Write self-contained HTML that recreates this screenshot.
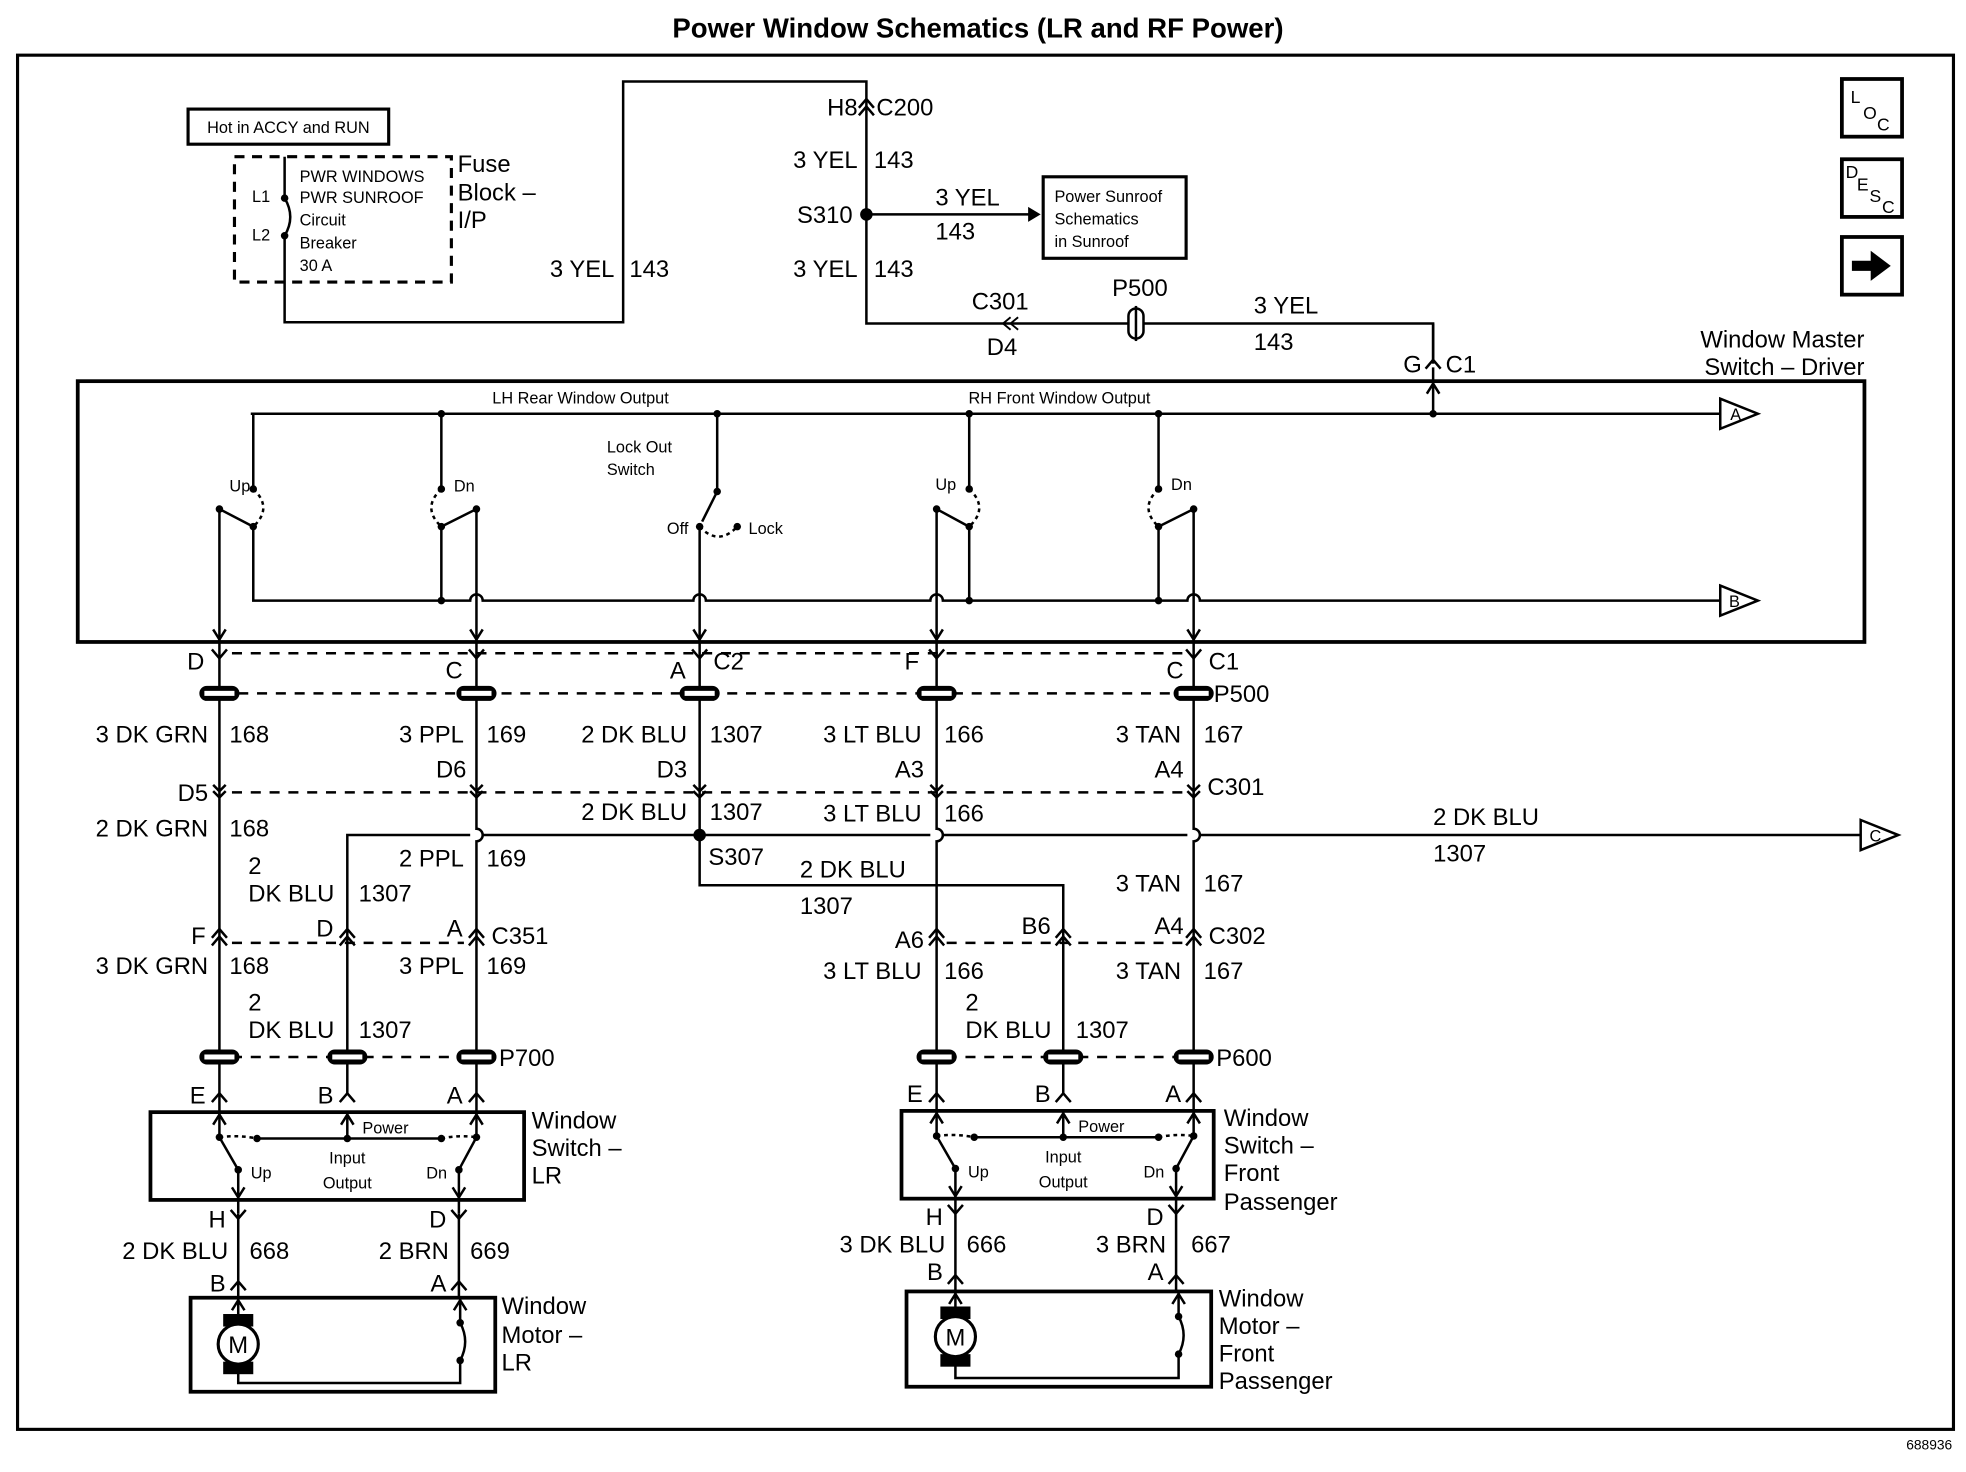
<!DOCTYPE html>
<html><head><meta charset="utf-8"><style>
html,body{margin:0;padding:0;background:#fff;}
svg{display:block;}
text{font-family:"Liberation Sans",Arial,sans-serif;fill:#000;}
.l{font-size:19px;}
.s{font-size:13px;}
.e{text-anchor:end;}
.m{text-anchor:middle;}
</style></head><body>
<svg width="1966" height="1472" viewBox="0 0 1568 1174" xmlns="http://www.w3.org/2000/svg">
<defs>
<path id="cy" d="M-6,-7 L0,0 L6,-7" fill="none" stroke="#000" stroke-width="2"/>
<path id="cu" d="M-6,7 L0,0 L6,7" fill="none" stroke="#000" stroke-width="2"/>
<path id="cd" d="M-5,-10 L0,-5 L5,-10 M-5,-5 L0,0 L5,-5" fill="none" stroke="#000" stroke-width="2"/>
<path id="ad" d="M-5,-8 L0,0 L5,-8" fill="none" stroke="#000" stroke-width="2"/>
<path id="au" d="M-5,8 L0,0 L5,8" fill="none" stroke="#000" stroke-width="2"/>
<g id="pad"><rect x="-16" y="-6" width="32" height="12" rx="6" fill="#000"/><rect x="-12" y="-2" width="24" height="4" fill="#fff"/></g>
<g id="mot"><rect x="-12" y="-24" width="24" height="10" fill="#000"/><rect x="-12" y="14" width="24" height="10" fill="#000"/><circle r="16" fill="#fff" stroke="#000" stroke-width="2.5"/><text y="7" class="l m">M</text></g>
</defs>
<rect width="1568" height="1174" fill="#fff"/>
<text x="780" y="30" class="m" style="font-size:22px;font-weight:bold">Power Window Schematics (LR and RF Power)</text>
<rect x="14" y="44" width="1544" height="1096" fill="none" stroke="#000" stroke-width="2.5"/>
<text x="1557" y="1156" class="e" style="font-size:11px">688936</text>

<g fill="none" stroke="#000" stroke-width="2">
<!-- top wiring -->
<rect x="150" y="87" width="160" height="28" stroke-width="2.5"/>
<rect x="187" y="125" width="173" height="100" stroke-width="2.5" stroke-dasharray="8,6"/>
<path d="M227,125 V158 M227,188 V257 H497 V65 H691 V258 H1143 V290"/>
<path d="M227,158 Q236,173 227,188"/>
<path d="M691,171 H822"/>
<path d="M1143,293 V330"/>
<rect x="832" y="141" width="114" height="65" stroke-width="2.5"/>
<rect x="1469" y="63" width="48" height="46" stroke-width="3"/>
<rect x="1469" y="127" width="48" height="46" stroke-width="3"/>
<rect x="1469" y="189" width="48" height="46" stroke-width="3"/>
<!-- master box -->
<rect x="62" y="304" width="1425" height="208" stroke-width="3"/>
<path d="M200,330 H1372 M1372,318 L1402,330 L1372,342 Z"/>
<path d="M202,330 V390 M202,420 V479 H375 a5,5 0 0 1 10,0 H553 a5,5 0 0 1 10,0 H742 a5,5 0 0 1 10,0 H947 a5,5 0 0 1 10,0 H1372 M1372,467 L1402,479 L1372,491 Z"/>
<path d="M352,330 V390 M352,420 V479 M572,330 V392 L560,416 M558,420 V512 M773,330 V390 M773,420 V479 M924,330 V390 M924,420 V479"/>
<path d="M175,406 L200,419 M175,406 V512 M380,406 L354,419 M380,406 V512 M747,406 L771,419 M747,406 V512 M952,406 L926,419 M952,406 V512"/>
<path d="M202,390 Q218,405 202,420 M352,390 Q336,405 352,420 M773,390 Q789,405 773,420 M924,390 Q908,405 924,420 M558,420 Q573,436 588,420" stroke-dasharray="3,3"/>
<!-- dashed connector lines -->
<path d="M185,521 H945 M190,553 H935 M185,632 H945 M185,752 H370 M755,752 H945 M185,843 H370 M755,843 H940" stroke-dasharray="8,7"/>
<!-- columns -->
<path d="M175,512 V873 M380,512 V661 a5,5 0 0 1 0,10 V873 M558,512 V706 H848 V873 M747,512 V661 a5,5 0 0 1 0,10 V873 M952,512 V661 a5,5 0 0 1 0,10 V873 M277,873 V666 H375 M385,666 H742 M752,666 H947 M957,666 H1484 M1484,654 L1514,666 L1484,678 Z"/>
<path d="M1143,258 V290"/>
<!-- LR switch -->
<rect x="120" y="887" width="298" height="70" stroke-width="3"/>
<path d="M175,873 V907 L190,933 V968 M205,908 H352 M277,908 V887 M380,873 V907 L366,933 V968"/>
<path d="M175,907 Q190,905 205,908 M352,908 Q366,905 380,907" stroke-dasharray="3,3"/>
<path d="M190,968 V1035 M366,968 V1035"/>
<rect x="152" y="1035" width="243" height="75" stroke-width="3"/>
<path d="M190,1035 V1050 M190,1094 V1103 H367 V1085 M367,1035 V1055 Q375,1070 367,1085"/>
<!-- passenger switch -->
<rect x="719" y="886" width="249" height="70" stroke-width="3"/>
<path d="M747,873 V906 L762,932 V968 M777,907 H924 M848,907 V886 M952,873 V906 L938,932 V968"/>
<path d="M747,906 Q762,904 777,907 M924,907 Q938,904 952,906" stroke-dasharray="3,3"/>
<path d="M762,968 V1030 M938,968 V1030"/>
<rect x="723" y="1030" width="243" height="76" stroke-width="3"/>
<path d="M762,1030 V1044 M762,1088 V1099 H940 V1080 M940,1030 V1050 Q948,1065 940,1080"/>
</g>
<path d="M820,165 L830,171 L820,177 Z"/>
<path d="M1477,208 H1492 V200 L1508,212 L1492,224 V216 H1477 Z"/>
<!-- dots -->
<g fill="#000">
<circle cx="691" cy="171" r="5"/><circle cx="558" cy="666" r="5"/>
<circle cx="227" cy="158" r="3"/><circle cx="227" cy="188" r="3"/>
<circle cx="352" cy="330" r="3"/><circle cx="572" cy="330" r="3"/><circle cx="773" cy="330" r="3"/><circle cx="924" cy="330" r="3"/><circle cx="1143" cy="330" r="3"/>
<circle cx="202" cy="390" r="3"/><circle cx="202" cy="420" r="3"/><circle cx="175" cy="406" r="3"/>
<circle cx="352" cy="390" r="3"/><circle cx="352" cy="420" r="3"/><circle cx="380" cy="406" r="3"/><circle cx="352" cy="479" r="3"/>
<circle cx="572" cy="392" r="3"/><circle cx="558" cy="420" r="3"/><circle cx="588" cy="420" r="3"/>
<circle cx="773" cy="390" r="3"/><circle cx="773" cy="420" r="3"/><circle cx="747" cy="406" r="3"/><circle cx="773" cy="479" r="3"/>
<circle cx="924" cy="390" r="3"/><circle cx="924" cy="420" r="3"/><circle cx="952" cy="406" r="3"/><circle cx="924" cy="479" r="3"/>
<circle cx="175" cy="907" r="3"/><circle cx="205" cy="908" r="3"/><circle cx="277" cy="908" r="3"/><circle cx="352" cy="908" r="3"/><circle cx="380" cy="907" r="3"/><circle cx="190" cy="933" r="3"/><circle cx="366" cy="933" r="3"/>
<circle cx="747" cy="906" r="3"/><circle cx="777" cy="907" r="3"/><circle cx="848" cy="907" r="3"/><circle cx="924" cy="907" r="3"/><circle cx="952" cy="906" r="3"/><circle cx="762" cy="932" r="3"/><circle cx="938" cy="932" r="3"/>
<circle cx="367" cy="1055" r="3"/><circle cx="367" cy="1085" r="3"/><circle cx="940" cy="1050" r="3"/><circle cx="940" cy="1080" r="3"/>
</g>
<!-- connector glyphs -->
<use href="#cu" x="691" y="79"/><use href="#cu" x="691" y="85"/>
<use href="#cu" x="1143" y="287"/>
<use href="#au" x="1143" y="306"/>
<path d="M806,253 L800,258 L806,263 M812,253 L806,258 L812,263" fill="none" stroke="#000" stroke-width="1.5"/>
<rect x="900" y="246" width="12" height="24" rx="6" fill="#fff" stroke="#000" stroke-width="2"/><line x1="906" y1="244" x2="906" y2="272" stroke="#000" stroke-width="2"/>
<use href="#ad" x="175" y="510"/><use href="#ad" x="380" y="510"/><use href="#ad" x="558" y="510"/><use href="#ad" x="747" y="510"/><use href="#ad" x="952" y="510"/>
<use href="#cy" x="175" y="525"/><use href="#cy" x="380" y="525"/><use href="#cy" x="558" y="525"/><use href="#cy" x="747" y="525"/><use href="#cy" x="952" y="525"/>
<use href="#pad" x="175" y="553"/><use href="#pad" x="380" y="553"/><use href="#pad" x="558" y="553"/><use href="#pad" x="747" y="553"/><use href="#pad" x="952" y="553"/>
<use href="#cd" x="175" y="636"/><use href="#cd" x="380" y="636"/><use href="#cd" x="558" y="636"/><use href="#cd" x="747" y="636"/><use href="#cd" x="952" y="636"/>
<use href="#cu" x="175" y="741"/><use href="#cu" x="175" y="747"/><use href="#cu" x="277" y="741"/><use href="#cu" x="277" y="747"/><use href="#cu" x="380" y="741"/><use href="#cu" x="380" y="747"/>
<use href="#cu" x="747" y="741"/><use href="#cu" x="747" y="747"/><use href="#cu" x="848" y="741"/><use href="#cu" x="848" y="747"/><use href="#cu" x="952" y="741"/><use href="#cu" x="952" y="747"/>
<use href="#pad" x="175" y="843"/><use href="#pad" x="277" y="843"/><use href="#pad" x="380" y="843"/><use href="#pad" x="747" y="843"/><use href="#pad" x="848" y="843"/><use href="#pad" x="952" y="843"/>
<use href="#cu" x="175" y="872"/><use href="#cu" x="277" y="872"/><use href="#cu" x="380" y="872"/><use href="#cu" x="747" y="872"/><use href="#cu" x="848" y="872"/><use href="#cu" x="952" y="872"/>
<use href="#au" x="175" y="889"/><use href="#au" x="277" y="889"/><use href="#au" x="380" y="889"/><use href="#au" x="747" y="888"/><use href="#au" x="848" y="888"/><use href="#au" x="952" y="888"/>
<use href="#ad" x="190" y="955"/><use href="#ad" x="366" y="955"/><use href="#ad" x="762" y="954"/><use href="#ad" x="938" y="954"/>
<use href="#cy" x="190" y="972"/><use href="#cy" x="366" y="972"/><use href="#cy" x="762" y="968"/><use href="#cy" x="938" y="968"/>
<use href="#cu" x="190" y="1022"/><use href="#cu" x="366" y="1022"/><use href="#cu" x="762" y="1017"/><use href="#cu" x="938" y="1017"/>
<use href="#au" x="190" y="1037"/><use href="#au" x="367" y="1037"/><use href="#au" x="762" y="1032"/><use href="#au" x="940" y="1032"/>
<use href="#mot" x="190" y="1072"/><use href="#mot" x="762" y="1066"/>

<!-- text -->
<text x="230" y="106" class="s m">Hot in ACCY and RUN</text>
<text x="201" y="161" class="s">L1</text><text x="201" y="192" class="s">L2</text>
<text x="239" y="145" class="s">PWR WINDOWS</text><text x="239" y="162" class="s">PWR SUNROOF</text>
<text x="239" y="180" class="s">Circuit</text><text x="239" y="198" class="s">Breaker</text><text x="239" y="216" class="s">30 A</text>
<text x="365" y="137" class="l">Fuse</text><text x="365" y="160" class="l">Block –</text><text x="365" y="182" class="l">I/P</text>
<text x="490" y="221" class="l e">3 YEL</text><text x="502" y="221" class="l">143</text>
<text x="684" y="92" class="l e">H8</text><text x="699" y="92" class="l">C200</text>
<text x="684" y="134" class="l e">3 YEL</text><text x="697" y="134" class="l">143</text>
<text x="680" y="178" class="l e">S310</text>
<text x="746" y="164" class="l">3 YEL</text><text x="746" y="191" class="l">143</text>
<text x="841" y="161" class="s">Power Sunroof</text><text x="841" y="179" class="s">Schematics</text><text x="841" y="197" class="s">in Sunroof</text>
<text x="684" y="221" class="l e">3 YEL</text><text x="697" y="221" class="l">143</text>
<text x="775" y="247" class="l">C301</text><text x="787" y="283" class="l">D4</text>
<text x="887" y="236" class="l">P500</text>
<text x="1000" y="250" class="l">3 YEL</text><text x="1000" y="279" class="l">143</text>
<text x="1134" y="297" class="l e">G</text><text x="1153" y="297" class="l">C1</text>
<text x="1487" y="277" class="l e">Window Master</text><text x="1487" y="299" class="l e">Switch – Driver</text>
<text x="1476" y="82" style="font-size:14px">L</text><text x="1486" y="95" style="font-size:14px">O</text><text x="1497" y="104" style="font-size:14px">C</text>
<text x="1472" y="142" style="font-size:14px">D</text><text x="1481" y="152" style="font-size:14px">E</text><text x="1491" y="161" style="font-size:14px">S</text><text x="1501" y="170" style="font-size:14px">C</text>
<text x="463" y="322" class="s m">LH Rear Window Output</text><text x="845" y="322" class="s m">RH Front Window Output</text>
<text x="183" y="392" class="s">Up</text><text x="362" y="392" class="s">Dn</text>
<text x="484" y="361" class="s">Lock Out</text><text x="484" y="379" class="s">Switch</text>
<text x="549" y="426" class="s e">Off</text><text x="597" y="426" class="s">Lock</text>
<text x="746" y="391" class="s">Up</text><text x="934" y="391" class="s">Dn</text>
<text x="1380" y="335" class="s">A</text><text x="1379" y="484" class="s">B</text><text x="1491" y="671" class="s">C</text>

<text x="163" y="534" class="l e">D</text><text x="369" y="541" class="l e">C</text><text x="547" y="541" class="l e">A</text><text x="569" y="534" class="l">C2</text>
<text x="733" y="534" class="l e">F</text><text x="944" y="541" class="l e">C</text><text x="964" y="534" class="l">C1</text>
<text x="968" y="560" class="l">P500</text>
<text x="166" y="592" class="l e">3 DK GRN</text><text x="183" y="592" class="l">168</text>
<text x="370" y="592" class="l e">3 PPL</text><text x="388" y="592" class="l">169</text>
<text x="548" y="592" class="l e">2 DK BLU</text><text x="566" y="592" class="l">1307</text>
<text x="735" y="592" class="l e">3 LT BLU</text><text x="753" y="592" class="l">166</text>
<text x="942" y="592" class="l e">3 TAN</text><text x="960" y="592" class="l">167</text>
<text x="372" y="620" class="l e">D6</text><text x="548" y="620" class="l e">D3</text><text x="737" y="620" class="l e">A3</text><text x="944" y="620" class="l e">A4</text>
<text x="166" y="639" class="l e">D5</text><text x="963" y="634" class="l">C301</text>
<text x="166" y="667" class="l e">2 DK GRN</text><text x="183" y="667" class="l">168</text>
<text x="548" y="654" class="l e">2 DK BLU</text><text x="566" y="654" class="l">1307</text>
<text x="735" y="655" class="l e">3 LT BLU</text><text x="753" y="655" class="l">166</text>
<text x="1143" y="658" class="l">2 DK BLU</text><text x="1143" y="687" class="l">1307</text>
<text x="370" y="691" class="l e">2 PPL</text><text x="388" y="691" class="l">169</text>
<text x="198" y="697" class="l">2</text><text x="198" y="719" class="l">DK BLU</text><text x="286" y="719" class="l">1307</text>
<text x="565" y="690" class="l">S307</text>
<text x="638" y="700" class="l">2 DK BLU</text><text x="638" y="729" class="l">1307</text>
<text x="942" y="711" class="l e">3 TAN</text><text x="960" y="711" class="l">167</text>
<text x="164" y="753" class="l e">F</text><text x="266" y="747" class="l e">D</text><text x="369" y="747" class="l e">A</text><text x="392" y="753" class="l">C351</text>
<text x="737" y="756" class="l e">A6</text><text x="838" y="745" class="l e">B6</text><text x="944" y="745" class="l e">A4</text><text x="964" y="753" class="l">C302</text>
<text x="166" y="777" class="l e">3 DK GRN</text><text x="183" y="777" class="l">168</text>
<text x="370" y="777" class="l e">3 PPL</text><text x="388" y="777" class="l">169</text>
<text x="735" y="781" class="l e">3 LT BLU</text><text x="753" y="781" class="l">166</text>
<text x="942" y="781" class="l e">3 TAN</text><text x="960" y="781" class="l">167</text>
<text x="198" y="806" class="l">2</text><text x="198" y="828" class="l">DK BLU</text><text x="286" y="828" class="l">1307</text>
<text x="770" y="806" class="l">2</text><text x="770" y="828" class="l">DK BLU</text><text x="858" y="828" class="l">1307</text>
<text x="398" y="850" class="l">P700</text><text x="970" y="850" class="l">P600</text>
<text x="164" y="880" class="l e">E</text><text x="266" y="880" class="l e">B</text><text x="369" y="880" class="l e">A</text>
<text x="736" y="879" class="l e">E</text><text x="838" y="879" class="l e">B</text><text x="942" y="879" class="l e">A</text>
<text x="289" y="904" class="s">Power</text><text x="200" y="940" class="s">Up</text><text x="340" y="940" class="s">Dn</text>
<text x="277" y="928" class="s m">Input</text><text x="277" y="948" class="s m">Output</text>
<text x="424" y="900" class="l">Window</text><text x="424" y="922" class="l">Switch –</text><text x="424" y="944" class="l">LR</text>
<text x="860" y="903" class="s">Power</text><text x="772" y="939" class="s">Up</text><text x="912" y="939" class="s">Dn</text>
<text x="848" y="927" class="s m">Input</text><text x="848" y="947" class="s m">Output</text>
<text x="976" y="898" class="l">Window</text><text x="976" y="920" class="l">Switch –</text><text x="976" y="942" class="l">Front</text><text x="976" y="965" class="l">Passenger</text>
<text x="180" y="979" class="l e">H</text><text x="356" y="979" class="l e">D</text>
<text x="182" y="1004" class="l e">2 DK BLU</text><text x="199" y="1004" class="l">668</text>
<text x="358" y="1004" class="l e">2 BRN</text><text x="375" y="1004" class="l">669</text>
<text x="180" y="1030" class="l e">B</text><text x="356" y="1030" class="l e">A</text>
<text x="400" y="1048" class="l">Window</text><text x="400" y="1071" class="l">Motor –</text><text x="400" y="1093" class="l">LR</text>
<text x="752" y="977" class="l e">H</text><text x="928" y="977" class="l e">D</text>
<text x="754" y="999" class="l e">3 DK BLU</text><text x="771" y="999" class="l">666</text>
<text x="930" y="999" class="l e">3 BRN</text><text x="950" y="999" class="l">667</text>
<text x="752" y="1021" class="l e">B</text><text x="928" y="1021" class="l e">A</text>
<text x="972" y="1042" class="l">Window</text><text x="972" y="1064" class="l">Motor –</text><text x="972" y="1086" class="l">Front</text><text x="972" y="1108" class="l">Passenger</text>
</svg>
</body></html>
